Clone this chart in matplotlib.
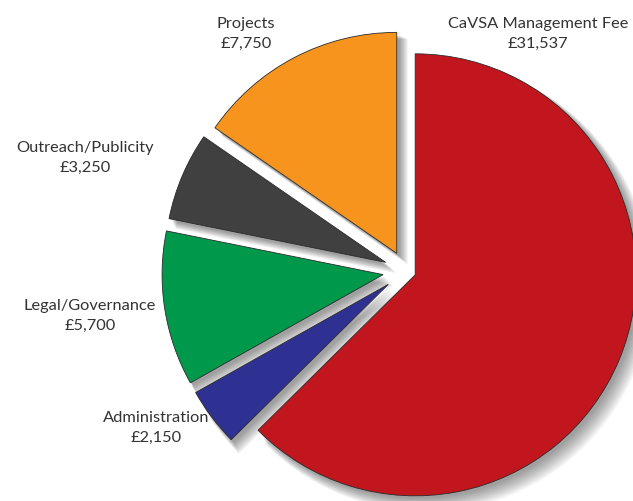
import matplotlib
matplotlib.use("Agg")
import matplotlib.pyplot as plt
from matplotlib.patches import Wedge

categories = ["CaVSA Management Fee", "Administration", "Legal/Governance",
              "Outreach/Publicity", "Projects"]
values = [31537, 2150, 5700, 3250, 7750]
colors = ["#C1161D", "#2E3192", "#00994C", "#404040", "#F7941E"]
explode_frac = [0.045, 0.1, 0.105, 0.1, 0.09]

# label layout (pixel positions, y from top)
label_pos = [(538, 34), (156, 428), (90, 316), (85, 158), (246, 34)]

W, H = 633, 502
fig = plt.figure(figsize=(W / 100, H / 100), dpi=100)
ax = fig.add_axes([0, 0, 1, 1])

R = 221
cx, cy = 406, H - 272
explode = [e * R for e in explode_frac]  # pie's explode is in data units
wedges, _ = ax.pie(values, colors=colors, explode=explode, startangle=90,
                   counterclock=False, radius=R, center=(cx, cy),
                   wedgeprops=dict(edgecolor="#2a2a2a", linewidth=0.6),
                   frame=True)
for w in wedges:
    w.set_zorder(5)

# soft drop shadow
for w in wedges:
    (x0, y0) = w.center
    for k in range(10):
        off = 3 + k * 0.9
        s = Wedge((x0 + off, y0 - off), w.r + k * 0.5, w.theta1, w.theta2,
                  facecolor="#000000", edgecolor="none", alpha=0.045, zorder=1)
        ax.add_patch(s)

for name, v, (lx, ly) in zip(categories, values, label_pos):
    ax.text(lx, H - ly, f"{name}\n£{v:,}", ha="center", va="center",
            fontsize=11.8, family=["Lato", "DejaVu Sans"], color="#333333",
            linespacing=1.5, zorder=10)

ax.set_xlim(0, W)
ax.set_ylim(0, H)
ax.set_aspect("equal")
ax.axis("off")
fig.savefig("out.png", dpi=100)
